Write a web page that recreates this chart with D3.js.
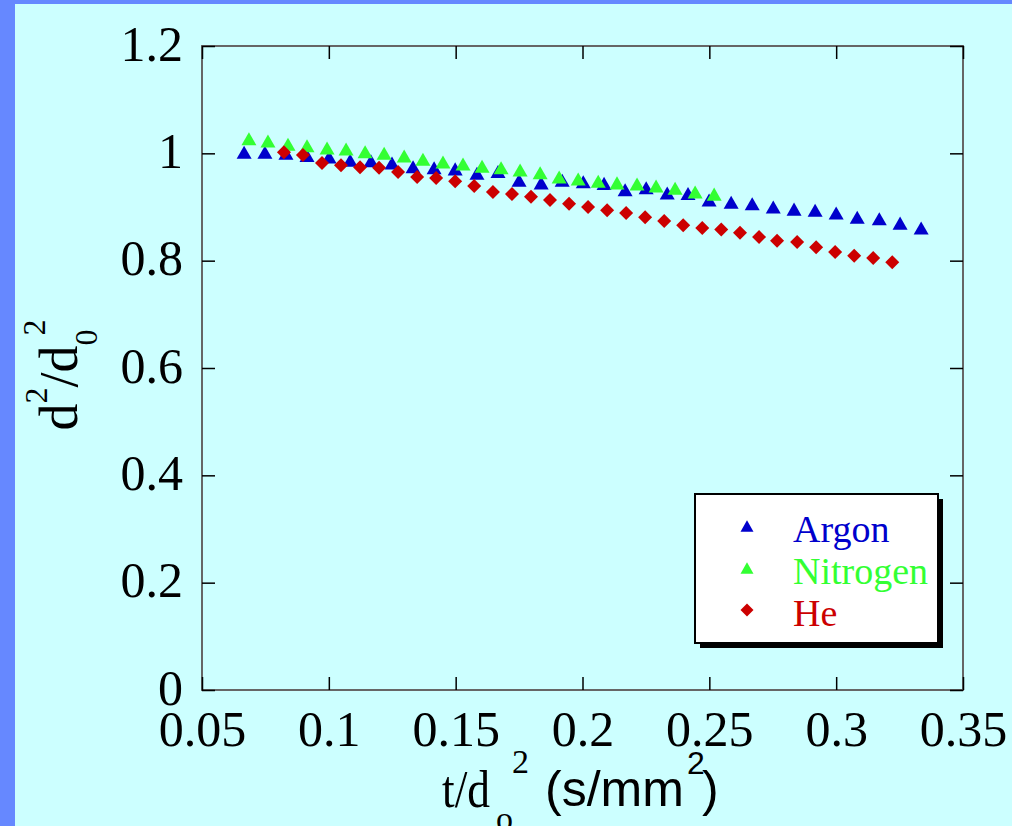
<!DOCTYPE html>
<html>
<head>
    <meta charset="utf-8">
    <script src="https://d3js.org/d3.v7.min.js"></script>
    <style>
        body { margin: 0; background: #ccffff; }
        svg { display: block; }
    </style>
</head>
<body>
    <svg id="chart" width="1012" height="826"></svg>

    <script>
        // data
        const argonX = [0.0666, 0.0748, 0.0831, 0.0914, 0.1001, 0.1084, 0.1166, 0.1249, 0.1332, 0.1415, 0.1498,
            0.1584, 0.1667, 0.1750, 0.1837, 0.1920, 0.2003, 0.2085, 0.2168, 0.2251, 0.2334, 0.2416,
            0.2499, 0.2586, 0.2669, 0.2752, 0.2834, 0.2917, 0.3000, 0.3083, 0.3170, 0.3252, 0.3335];
        const argonY = [1.002, 1.002, 1.000, 0.996, 0.993, 0.987, 0.986, 0.982, 0.975, 0.973, 0.971,
            0.963, 0.966, 0.950, 0.945, 0.950, 0.947, 0.944, 0.932, 0.936, 0.926, 0.925,
            0.913, 0.909, 0.906, 0.900, 0.896, 0.894, 0.889, 0.881, 0.878, 0.870, 0.861];

        const nitrogenX = [0.0685, 0.0760, 0.0839, 0.0914, 0.0993, 0.1068, 0.1143, 0.1218, 0.1297, 0.1371, 0.1450,
            0.1529, 0.1604, 0.1679, 0.1754, 0.1833, 0.1908, 0.1983, 0.2062, 0.2136, 0.2215, 0.2290,
            0.2365, 0.2444, 0.2519];
        const nitrogenY = [1.027, 1.023, 1.017, 1.014, 1.010, 1.008, 1.003, 1.000, 0.995, 0.989, 0.984,
            0.980, 0.976, 0.973, 0.969, 0.964, 0.956, 0.952, 0.948, 0.945, 0.943, 0.939,
            0.935, 0.928, 0.924];

        const heliumX = [0.0823, 0.0898, 0.0973, 0.1048, 0.1123, 0.1198, 0.1273, 0.1348, 0.1423, 0.1498, 0.1573,
            0.1647, 0.1722, 0.1797, 0.1872, 0.1947, 0.2022, 0.2097, 0.2172, 0.2247, 0.2322, 0.2397,
            0.2472, 0.2547, 0.2621, 0.2696, 0.2767, 0.2846, 0.2921, 0.2996, 0.3071, 0.3146, 0.3221];
        const heliumY = [1.002, 0.997, 0.982, 0.978, 0.974, 0.973, 0.965, 0.956, 0.954, 0.948, 0.939,
            0.928, 0.924, 0.919, 0.913, 0.906, 0.900, 0.894, 0.889, 0.881, 0.874, 0.866,
            0.861, 0.858, 0.852, 0.844, 0.837, 0.835, 0.825, 0.816, 0.809, 0.805, 0.797];

        const seriesNames = ["Argon", "Nitrogen", "He"];
        const seriesColors = ["#0000cc", "#33ff33", "#cc0000"];

        const xTicks = [0.05, 0.1, 0.15, 0.2, 0.25, 0.3, 0.35];
        const xTickLabels = ["0.05", "0.1", "0.15", "0.2", "0.25", "0.3", "0.35"];
        const yTicks = [0, 0.2, 0.4, 0.6, 0.8, 1, 1.2];
        const yTickLabels = ["0", "0.2", "0.4", "0.6", "0.8", "1", "1.2"];

        const svg = d3.select("#chart"),
            width = +svg.attr("width"),
            height = +svg.attr("height");

        const serif = "'Liberation Serif', 'Times New Roman', serif";
        const sans = "'Liberation Sans', Arial, sans-serif";

        // background and the blue frame on the left / top
        svg.append("rect").attr("width", width).attr("height", height).attr("fill", "#ccffff");
        svg.append("rect").attr("width", 15).attr("height", height).attr("fill", "#6688ff");
        svg.append("rect").attr("width", width).attr("height", 4).attr("fill", "#6688ff");

        const plot = { left: 202, right: 963, top: 46, bottom: 690 };

        const x = d3.scaleLinear().domain([0.05, 0.35]).range([plot.left, plot.right]);
        const y = d3.scaleLinear().domain([0, 1.2]).range([plot.bottom, plot.top]);

        // plot frame
        svg.append("rect")
            .attr("x", plot.left).attr("y", plot.top)
            .attr("width", plot.right - plot.left).attr("height", plot.bottom - plot.top)
            .attr("fill", "none").attr("stroke", "#666").attr("stroke-width", 2);

        function styleAxis(g) {
            g.select(".domain").remove();
            g.selectAll(".tick line").attr("stroke", "#000").attr("stroke-width", 1.5);
            g.selectAll(".tick text")
                .attr("fill", "#000")
                .style("font-family", serif)
                .style("font-size", "50px");
        }

        const xLab = d => xTickLabels[xTicks.indexOf(d)];
        const yLab = d => yTickLabels[yTicks.indexOf(d)];

        svg.append("g")
            .attr("transform", `translate(0,${plot.bottom})`)
            .call(d3.axisBottom(x).tickValues(xTicks).tickFormat(xLab)
                .tickSizeInner(-13).tickSizeOuter(0).tickPadding(20))
            .call(styleAxis);

        svg.append("g")
            .attr("transform", `translate(0,${plot.top})`)
            .call(d3.axisTop(x).tickValues(xTicks).tickFormat("")
                .tickSizeInner(-13).tickSizeOuter(0))
            .call(styleAxis);

        svg.append("g")
            .attr("transform", `translate(${plot.left},0)`)
            .call(d3.axisLeft(y).tickValues(yTicks).tickFormat(yLab)
                .tickSizeInner(-13).tickSizeOuter(0).tickPadding(19))
            .call(styleAxis)
            .selectAll(".tick text").attr("dy", "0.28em");

        svg.append("g")
            .attr("transform", `translate(${plot.right},0)`)
            .call(d3.axisRight(y).tickValues(yTicks).tickFormat("")
                .tickSizeInner(-13).tickSizeOuter(0))
            .call(styleAxis);

        // triangle centred on its bounding box, size = width^2
        const boxTriangle = {
            draw(context, size) {
                const w = Math.sqrt(size), h = w * 0.87;
                context.moveTo(0, -h / 2);
                context.lineTo(w / 2, h / 2);
                context.lineTo(-w / 2, h / 2);
                context.closePath();
            }
        };
        // diamond, size = diagonal^2
        const diamond = {
            draw(context, size) {
                const r = Math.sqrt(size) / 2;
                context.moveTo(0, -r);
                context.lineTo(r, 0);
                context.lineTo(0, r);
                context.lineTo(-r, 0);
                context.closePath();
            }
        };

        const series = [
            { xs: argonX, ys: argonY, shape: boxTriangle, size: 15 * 15 },
            { xs: nitrogenX, ys: nitrogenY, shape: boxTriangle, size: 15 * 15 },
            { xs: heliumX, ys: heliumY, shape: diamond, size: 14 * 14 }
        ];

        series.forEach((s, i) => {
            const pts = s.xs.map((v, j) => [v, s.ys[j]]);
            svg.append("g")
                .selectAll("path")
                .data(pts)
                .join("path")
                .attr("transform", d => `translate(${x(d[0])},${y(d[1])})`)
                .attr("d", d3.symbol().type(s.shape).size(s.size))
                .attr("fill", seriesColors[i]);
        });

        // legend
        const legend = svg.append("g").attr("transform", "translate(695,494)");
        legend.append("rect")
            .attr("x", 5).attr("y", 5).attr("width", 243).attr("height", 149)
            .attr("fill", "#000");
        legend.append("rect")
            .attr("width", 243).attr("height", 149)
            .attr("fill", "#fff").attr("stroke", "#000").attr("stroke-width", 2);

        seriesNames.forEach((name, i) => {
            legend.append("path")
                .attr("transform", `translate(52,${32 + i * 42})`)
                .attr("d", d3.symbol().type(series[i].shape).size(13 * 13))
                .attr("fill", seriesColors[i]);
            legend.append("text")
                .attr("x", 98).attr("y", 48 + i * 42)
                .attr("fill", seriesColors[i])
                .style("font-family", serif)
                .style("font-size", "38px")
                .text(name);
        });

        // y axis title: d^2/d_0^2
        const yTitle = svg.append("text")
            .attr("transform", "translate(77,375) rotate(-90)")
            .attr("text-anchor", "middle")
            .style("font-family", serif)
            .style("font-size", "54px")
            .attr("fill", "#000");
        yTitle.append("tspan").text("d");
        yTitle.append("tspan").attr("dy", -30).style("font-size", "32px").text("2");
        yTitle.append("tspan").attr("dy", 30).text("/d");
        yTitle.append("tspan").attr("dy", 20).style("font-size", "32px").text("0");
        yTitle.append("tspan").attr("dx", -6).attr("dy", -52).style("font-size", "32px").text("2");

        // x axis title: t/d_o^2 (s/mm^2)
        const xTitle = svg.append("g").attr("fill", "#000");
        xTitle.append("text").attr("x", 442).attr("y", 807)
            .attr("textLength", 48).attr("lengthAdjust", "spacingAndGlyphs")
            .style("font-family", serif).style("font-size", "52px").text("t/d");
        xTitle.append("text").attr("x", 496).attr("y", 830)
            .style("font-family", serif).style("font-size", "34px").text("o");
        xTitle.append("text").attr("x", 512).attr("y", 773)
            .style("font-family", serif).style("font-size", "34px").text("2");
        xTitle.append("text").attr("x", 545).attr("y", 806)
            .style("font-family", sans).style("font-size", "50px").text("(s/mm");
        xTitle.append("text").attr("x", 687).attr("y", 774)
            .style("font-family", sans).style("font-size", "32px").text("2");
        xTitle.append("text").attr("x", 702).attr("y", 806)
            .style("font-family", sans).style("font-size", "50px").text(")");
    </script>
</body>
</html>
